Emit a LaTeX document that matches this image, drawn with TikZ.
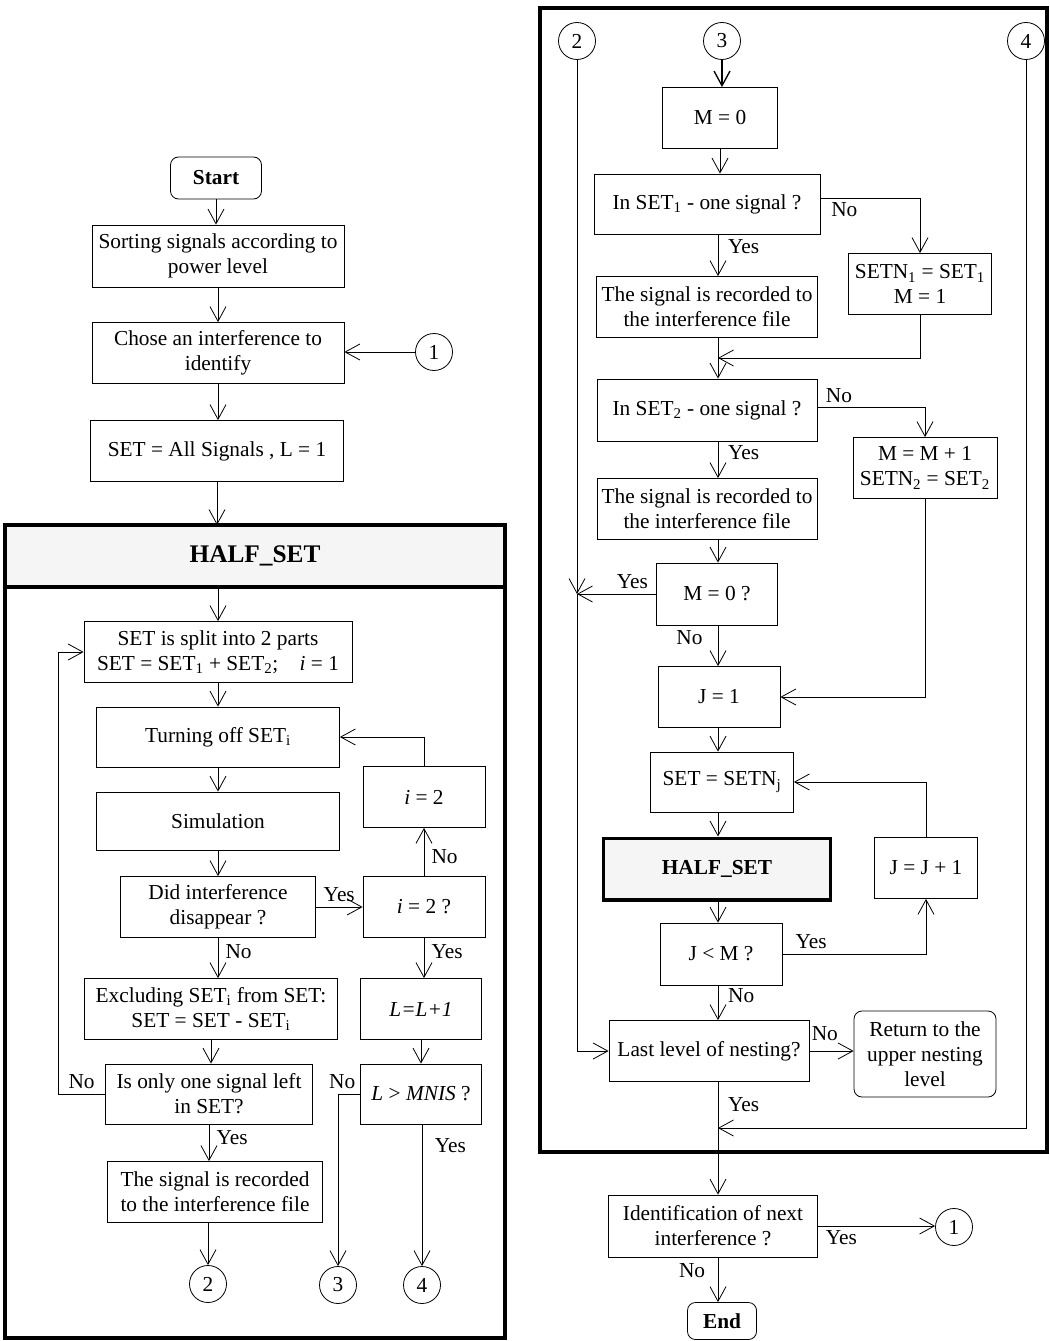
\documentclass[tikz,border=0pt]{standalone}
\usepackage{fontspec}
\setmainfont{Liberation Serif}
\usetikzlibrary{arrows.meta}
\tikzstyle{flow} = [draw, ->]
\tikzstyle{frame} = [draw, line width=3pt]
\newcommand{\flowfont}{\fontsize{16}{18.75}\selectfont}

\begin{document}
\begin{tikzpicture}[x=0.75pt, y=-0.75pt,
			>={Straight Barb[length=11pt, width=12pt]},   % offene Pfeilspitzen
			line width=0.6pt, font=\flowfont,
			box/.style={draw, align=center, inner sep=1pt, minimum width=#1, minimum height=45.75pt},
			term/.style={draw, rounded corners=6pt, align=center, inner sep=1pt},
			conn/.style={draw, circle, minimum size=27.75pt, inner sep=0pt}]
			\useasboundingbox (0,0) rectangle (1049,1341);
			% linke Spalte
			\node[term, font=\flowfont\bfseries, minimum width=68.25pt, minimum height=31.5pt] (start) at (216,178) {Start};
			\node[box=189pt, minimum height=46.5pt] (sort) at (218,256) {Sorting signals according to\\power level};
			\node[box=189pt] (chose) at (218,353) {Chose an interference to\\identify};
			\node[conn] (c1a) at (434,352) {1};
			\node[box=189.75pt] (setall) at (217,451) {SET = All Signals , L = 1};
			% Block HALF_SET
			\node[fill=gray!8, outer sep=0pt, minimum width=375pt, minimum height=46.5pt, font=\fontsize{19}{22}\selectfont\bfseries] (hdr) at (255,556) {HALF\_SET};
			\draw[frame] (5,525) rectangle (505,1338);
			\draw[frame] (hdr.south west) -- (hdr.south east);
			\node[box=201pt] (split) at (218,652) {SET is split into 2 parts\\SET = SET\textsubscript{1} + SET\textsubscript{2};\quad \textit{i} = 1};
			\node[box=182.25pt, minimum height=45pt] (turn) at (218,737) {Turning off SET\textsubscript{i}};
			\node[box=182.25pt, minimum height=43.5pt] (sim) at (218,821) {Simulation};
			\node[box=146.25pt] (did) at (218,907) {Did interference\\disappear ?};
			\node[box=91.5pt] (itwo) at (424,797) {\textit{i} = 2};
			\node[box=91.5pt] (itwoq) at (424,907) {\textit{i} = 2 ?};
			\node[box=189.75pt] (excl) at (211,1009) {Excluding SET\textsubscript{i} from SET:\\SET = SET - SET\textsubscript{i}};
			\node[box=155.25pt, minimum height=45pt] (only) at (209,1094) {Is only one signal left\\in SET?};
			\node[box=161.25pt] (rec) at (215,1192) {The signal is recorded\\to the interference file};
			\node[box=90.75pt] (lplus) at (421,1009) {\textit{L=L+1}};
			\node[box=90.75pt, minimum height=45pt] (lmnis) at (421,1094) {\textit{L} > \textit{MNIS} ?};
			\node[conn] (c2a) at (208,1284) {2};
			\node[conn] (c3a) at (338,1285) {3};
			\node[conn] (c4a) at (422,1285) {4};
			% Pfeile links
			\draw[flow] (start) -- (start |- sort.north);
			\draw[flow] (sort) -- (sort |- chose.north);
			\draw[flow] (chose) -- (chose |- setall.north);
			\draw[flow] (c1a) -- (c1a -| chose.east);
			\draw[flow] (setall) -- (setall |- hdr.north);
			\draw[flow] (hdr.south -| split) -- (split);
			\draw[flow] (split) -- (split |- turn.north);
			\draw[flow] (turn) -- (turn |- sim.north);
			\draw[flow] (sim) -- (sim |- did.north);
			\draw[flow] (did) -- (did -| itwoq.west) node[midway, above] {Yes};
			\draw[flow] (itwoq) -- (itwoq |- itwo.south) node[pos=0.4, right=2pt] {No};
			\draw[flow] (itwo.north) |- (turn.east);
			\draw[flow] (did) -- (did |- excl.north) node[pos=0.35, right=2pt] {No};
			\draw[flow] (itwoq) -- (itwoq |- lplus.north) node[pos=0.35, right=2pt] {Yes};
			\draw[flow] (excl) -- (excl |- only.north);
			\draw[flow] (lplus) -- (lplus |- lmnis.north);
			\draw[flow] (only.west) -- ++(-47,0) node[midway, above] {No} |- (split.west);
			\draw[flow] (only) -- (only |- rec.north) node[pos=0.35, right=2pt] {Yes};
			\draw[flow] (rec.south -| c2a) -- (c2a);
			\draw[flow] (lmnis.west) node[above left] {No} -| (c3a.north);
			\draw[flow] (lmnis.south -| c4a) -- (c4a) node[pos=0.15, right=6pt] {Yes};
			% rechte Spalte
			\draw[frame] (540,8) rectangle (1047,1152);
			\coordinate (spine) at (718,0);
			\coordinate (j1) at (718,358);
			\coordinate (j2) at (577,594);
			\coordinate (j3) at (718,1128);
			\node[conn] (c2b) at (577,41) {2};
			\node[conn] (c3b) at (722,41) {3};
			\node[conn] (c4b) at (1026,41) {4};
			\node[box=86.25pt] (mzero) at (720,118) {M = 0};
			\node[box=169.5pt, minimum height=45pt] (inone) at (707,204) {In SET\textsubscript{1} - one signal ?};
			\node[box=107.25pt] (setn1) at (920,284) {SETN\textsubscript{1} = SET\textsubscript{1}\\M = 1};
			\node[box=165.75pt] (rec1) at (707,307) {The signal is recorded to\\the interference file};
			\node[box=165pt, minimum height=46.5pt] (intwo) at (707,410) {In SET\textsubscript{2} - one signal ?};
			\node[box=108pt] (mplus) at (925,468) {M = M + 1\\SETN\textsubscript{2} = SET\textsubscript{2}};
			\node[box=165pt] (rec2) at (707,509) {The signal is recorded to\\the interference file};
			\node[box=90.75pt, minimum height=46.5pt] (mzq) at (717,594) {M = 0 ?};
			\node[box=91.5pt] (jone) at (719,697) {J = 1};
			\node[box=107.25pt, minimum height=45pt] (setnj) at (722,782) {SET = SETN\textsubscript{j}};
			\node[box=170pt, minimum height=46.25pt, line width=2.5pt, fill=gray!8, font=\flowfont\bfseries] (hs) at (717,869) {HALF\_SET};
			\node[box=77.25pt] (jplus) at (926,868) {J = J + 1};
			\node[box=91.5pt, minimum height=46.5pt] (jlm) at (721,954) {J < M ?};
			\node[box=150pt] (last) at (709,1051) {Last level of nesting?};
			\node[term, minimum width=106.5pt, minimum height=64.5pt] (ret) at (925,1054) {Return to the\\upper nesting\\level};
			\node[box=156.75pt, minimum height=46.5pt] (ident) at (713,1226) {Identification of next\\interference ?};
			\node[conn] (c1b) at (954,1227) {1};
			\node[term, font=\flowfont\bfseries, minimum width=51.75pt, minimum height=27.75pt] (endn) at (722,1321) {End};
			% Pfeile rechts
			\draw[flow, line width=1pt] (c3b) -- (c3b |- mzero.north);
			\draw[flow] (mzero) -- (mzero |- inone.north);
			\draw[flow] ([yshift=4.5pt]inone.east) -| (setn1.north) node[pos=0.12, below] {No};
			\draw[flow] (inone.south -| spine) -- (spine |- rec1.north) node[pos=0.3, right=4pt] {Yes};
			\draw[flow] (rec1.south -| spine) -- (spine |- intwo.north);
			\draw[flow] (setn1.south) |- (j1);
			\draw[flow] ([yshift=2pt]intwo.east) -| (mplus.north) node[pos=0.1, above] {No};
			\draw[flow] (intwo.south -| spine) -- (spine |- rec2.north) node[pos=0.3, right=4pt] {Yes};
			\draw[flow] (rec2.south -| spine) -- (spine |- mzq.north);
			\draw[flow] (mzq.west) -- (j2) node[pos=0.3, above] {Yes};
			\draw[flow] (c2b) -- (j2);
			\draw[flow] (j2) |- (last.west);
			\draw[flow] (mzq.south -| spine) -- (spine |- jone.north) node[pos=0.3, left=8pt] {No};
			\draw[flow] (mplus.south) |- (jone.east);
			\draw[flow] (jone.south -| spine) -- (spine |- setnj.north);
			\draw[flow] (setnj.south -| spine) -- (spine |- hs.north);
			\draw[flow] (hs.south -| spine) -- (spine |- jlm.north);
			\draw[flow] (jlm.east) -| (jplus.south) node[pos=0.1, above] {Yes};
			\draw[flow] (jplus.north) |- (setnj.east);
			\draw[flow] (jlm.south -| spine) -- (spine |- last.north) node[pos=0.3, right=4pt] {No};
			\draw[flow] (last) -- (last -| ret.west) node[pos=0.35, above=4pt] {No};
			\draw (last.south -| spine) -- (j3) node[midway, right=4pt] {Yes};
			\draw[flow] (c4b) |- (j3);
			\draw[flow] (j3) -- (spine |- ident.north);
			\draw[flow] (ident) -- (ident -| c1b.west) node[pos=0.2, below] {Yes};
			\draw[flow] (ident.south -| spine) -- (spine |- endn.north) node[pos=0.3, left=6pt] {No};
		\end{tikzpicture}
\end{document}
